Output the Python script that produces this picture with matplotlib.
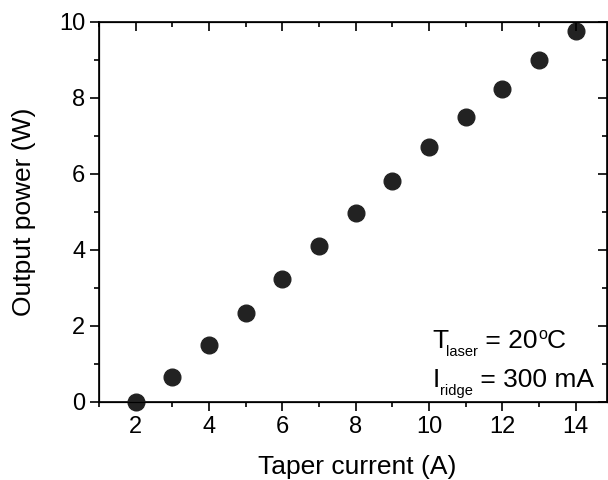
import matplotlib
matplotlib.use("Agg")
import matplotlib.pyplot as plt
from matplotlib.ticker import MultipleLocator

plt.rcParams['font.family'] = ['Liberation Sans', 'DejaVu Sans']

# taper current (A) vs output power (W)
current = [2, 3, 4, 5, 6, 7, 8, 9, 10, 11, 12, 13, 14]
power = [0.0, 0.65, 1.5, 2.35, 3.23, 4.1, 4.97, 5.82, 6.7, 7.5, 8.22, 9.0, 9.75]

fig = plt.figure(figsize=(6.08, 4.8), dpi=100)
ax = fig.add_axes([0.163, 0.1625, 0.835, 0.7925])

ax.plot(current, power, 'o', color='#222222', markersize=12, clip_on=False, zorder=3)

ax.set_xlim(1, 14.85)
ax.set_ylim(0, 10)


def set_ticks(a, which_axis, direction, labels):
    axis = a.xaxis if which_axis == 'x' else a.yaxis
    axis.set_major_locator(MultipleLocator(2))
    axis.set_minor_locator(MultipleLocator(1))
    a.tick_params(axis=which_axis, which='both', direction=direction, width=1.2)
    a.tick_params(axis=which_axis, which='major', length=6.5)
    a.tick_params(axis=which_axis, which='minor', length=3.5)
    if not labels:
        a.tick_params(axis=which_axis, which='both', labeltop=False, labelright=False,
                      labelbottom=False, labelleft=False)


# origin-like ticks: out on bottom/left, in on top/right
set_ticks(ax, 'x', 'out', True)
set_ticks(ax, 'y', 'out', True)
ax.tick_params(labelsize=17)
for s in ax.spines.values():
    s.set_linewidth(1.2)

top = ax.twiny()
top.set_xlim(ax.get_xlim())
set_ticks(top, 'x', 'in', False)
right = ax.twinx()
right.set_ylim(ax.get_ylim())
set_ticks(right, 'y', 'in', False)

ax.set_xlabel('Taper current (A)', fontsize=19, va='baseline')
ax.set_ylabel('Output power (W)', fontsize=19, va='baseline')
ax.xaxis.set_label_coords(0.508, -0.189)
ax.yaxis.set_label_coords(-0.134, 0.5)

# annotation with small sub/superscripts, laid out piece by piece
renderer = fig.canvas.get_renderer()


def rich(x, y, parts):
    dx = 0.0
    for txt, size, dy, shift in parts:
        dx += shift
        t = ax.annotate(txt, xy=(x, y), xycoords='data', xytext=(dx, dy),
                        textcoords='offset pixels', fontsize=size, va='baseline', ha='left')
        dx += t.get_window_extent(renderer).width


rich(10.1, 1.42, [('T', 19, 0, 0), ('laser', 10.5, -8, -3), (' = 20', 19, 0, 0),
                  ('o', 11.5, 9, 1), ('C', 19, 0, 0)])
rich(10.1, 0.39, [('I', 19, 0, 0), ('ridge', 10.5, -8, 0), (' = 300 mA', 19, 0, 0)])

fig.savefig('out.png', dpi=100)
